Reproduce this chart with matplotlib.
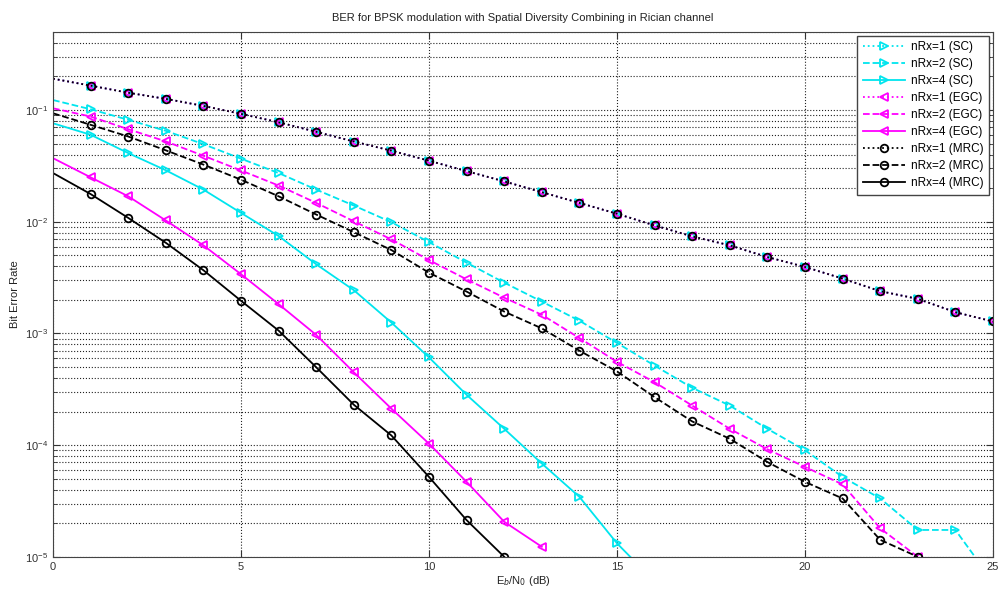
import numpy as np
import matplotlib
matplotlib.use("Agg")
import matplotlib.pyplot as plt
from matplotlib.ticker import LogLocator, NullFormatter, FixedLocator

# Eb/N0 axis (dB)
ebn0 = np.arange(0, 26)

# nRx=1: SC, EGC and MRC give the same curve
ber_rx1 = [0.191, 0.1655, 0.143, 0.126, 0.109, 0.0925, 0.0778, 0.0639, 0.0523,
           0.0433, 0.0352, 0.0284, 0.0230, 0.0184, 0.01475, 0.0118, 0.00927,
           0.00740, 0.00615, 0.00483, 0.00394, 0.00310, 0.00239, 0.00204,
           0.00155, 0.00128]

ber_sc2 = [0.123, 0.1017, 0.0818, 0.0652, 0.0495, 0.0367, 0.0273, 0.0194,
           0.01397, 0.00991, 0.00657, 0.00430, 0.00285, 0.00193, 0.00130,
           0.000822, 0.000515, 0.000326, 0.000226, 0.000140, 9.0e-5, 5.19e-5,
           3.33e-5, 1.74e-5, 1.74e-5, 6e-6]
ber_sc4 = [0.0762, 0.0601, 0.0412, 0.0289, 0.0194, 0.0120, 0.00745, 0.00416,
           0.00244, 0.00125, 0.000610, 0.000282, 0.000140, 6.84e-5, 3.44e-5,
           1.32e-5, 6e-6]

ber_egc2 = [0.1038, 0.0875, 0.0674, 0.0524, 0.0390, 0.0288, 0.0211, 0.01475,
            0.0101, 0.00695, 0.00454, 0.00305, 0.00209, 0.00147, 0.00091,
            0.000557, 0.000366, 0.000226, 0.000140, 9.18e-5, 6.38e-5, 4.45e-5,
            1.80e-5, 1.0e-5]
ber_egc4 = [0.0371, 0.0250, 0.0169, 0.01027, 0.00615, 0.00339, 0.00183,
            0.000970, 0.000449, 0.000212, 0.000103, 4.69e-5, 2.06e-5, 1.23e-5]

ber_mrc2 = [0.0936, 0.0738, 0.0580, 0.0436, 0.0325, 0.0238, 0.0169, 0.01161,
            0.00807, 0.00558, 0.00350, 0.00237, 0.00157, 0.00111, 0.000701,
            0.000457, 0.000269, 0.000163, 0.000114, 7.06e-5, 4.69e-5, 3.33e-5,
            1.42e-5, 1.0e-5]
ber_mrc4 = [0.0273, 0.0177, 0.01083, 0.00648, 0.00368, 0.00196, 0.00106,
            0.000498, 0.000230, 0.000122, 5.19e-5, 2.13e-5, 1.0e-5]

cyan = '#00e5ee'
magenta = '#ff00ff'
black = 'black'

series = [
    (ber_rx1, cyan, ':', '>', 'nRx=1 (SC)'),
    (ber_sc2, cyan, '--', '>', 'nRx=2 (SC)'),
    (ber_sc4, cyan, '-', '>', 'nRx=4 (SC)'),
    (ber_rx1, magenta, ':', '<', 'nRx=1 (EGC)'),
    (ber_egc2, magenta, '--', '<', 'nRx=2 (EGC)'),
    (ber_egc4, magenta, '-', '<', 'nRx=4 (EGC)'),
    (ber_rx1, black, ':', 'o', 'nRx=1 (MRC)'),
    (ber_mrc2, black, '--', 'o', 'nRx=2 (MRC)'),
    (ber_mrc4, black, '-', 'o', 'nRx=4 (MRC)'),
]

plt.rcParams['font.family'] = ['Liberation Sans', 'DejaVu Sans']

fig = plt.figure(figsize=(10.01, 5.93), dpi=100)
ax = fig.add_axes([0.053, 0.061, 0.939, 0.885])

for vals, col, ls, mk, lab in series:
    ax.semilogy(ebn0[:len(vals)], vals, color=col, linestyle=ls, marker=mk,
                markersize=5.5, markerfacecolor='none', markeredgewidth=1.3,
                linewidth=1.3, markevery=slice(1, None), label=lab)

ax.set_xlim(0, 25)
ax.set_ylim(1e-5, 0.5)
ax.xaxis.set_major_locator(FixedLocator([0, 5, 10, 15, 20, 25]))
ax.yaxis.set_major_locator(LogLocator(base=10, numticks=10))
ax.yaxis.set_minor_locator(LogLocator(base=10, subs=np.arange(2, 10), numticks=20))
ax.yaxis.set_minor_formatter(NullFormatter())

ax.grid(True, which='major', linestyle=':', color='#222222', linewidth=0.8)
ax.grid(True, which='minor', axis='y', linestyle=':', color='#222222', linewidth=0.8)
ax.tick_params(which='both', direction='in', labelsize=8, colors='#333333',
               top=True, right=True)
ax.tick_params(which='major', length=5)
ax.tick_params(which='minor', length=3)
for s in ax.spines.values():
    s.set_color('#444444')

ax.set_title('BER for BPSK modulation with Spatial Diversity Combining in Rician channel',
             fontsize=8, color='#222222', pad=8)
ax.set_xlabel('E$_b$/N$_0$ (dB)', fontsize=8, color='#222222', labelpad=2)
ax.set_ylabel('Bit Error Rate', fontsize=8, color='#222222')

leg = ax.legend(loc='upper right', fontsize=8.5, fancybox=False, framealpha=1,
                edgecolor='#444444', borderaxespad=0.3, handlelength=3.6,
                labelspacing=0.42, borderpad=0.5, handletextpad=0.5)
leg.get_frame().set_linewidth(1.0)
for h in leg.legend_handles:
    h.set_markevery([1])

fig.savefig('out.png', dpi=100)
